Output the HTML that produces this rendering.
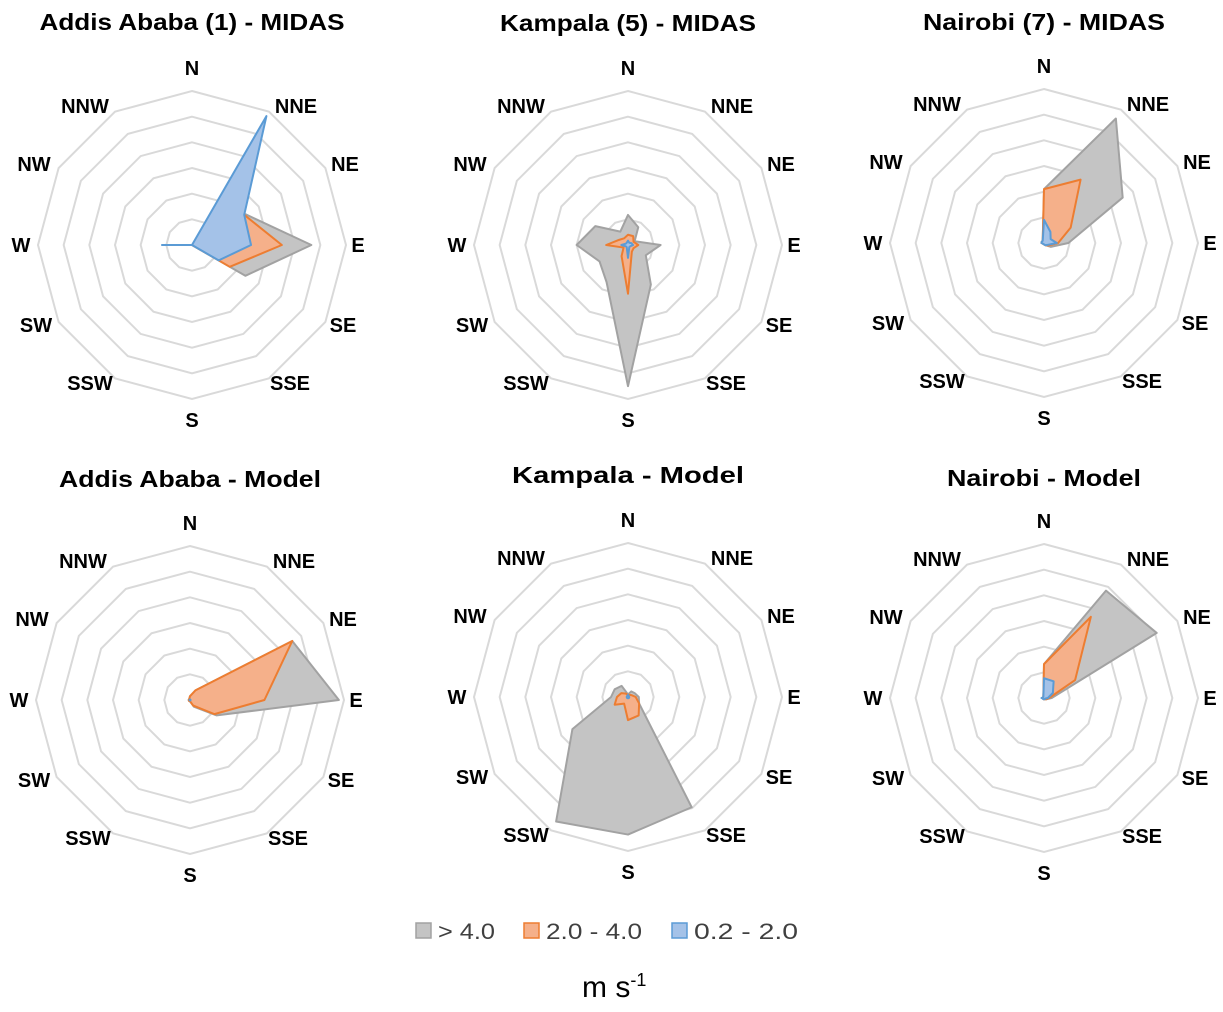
<!DOCTYPE html>
<html><head><meta charset="utf-8"><style>
html,body{margin:0;padding:0;background:#fff;}
svg{display:block;font-family:"Liberation Sans","DejaVu Sans",sans-serif;}
</style></head><body>
<svg id="chart" width="1223" height="1012" viewBox="0 0 1223 1012"></svg>
<script>
const directions = ["N","NNE","NE","E","SE","SSE","S","SSW","SW","W","NW","NNW"];
const ringCount = 6;
const titles = ["Addis Ababa (1) - MIDAS","Kampala (5) - MIDAS","Nairobi (7) - MIDAS","Addis Ababa - Model","Kampala - Model","Nairobi - Model"];
// values in ring units (0-6), order N..NNW
const grayA1 = [0,0,2.4,4.65,2.4,0,0,0,0,0,0,0];
const orangeA1 = [0,0,2.35,3.5,1.7,0,0,0,0,0,0,0];
const blueA1 = [0,5.8,2.35,2.3,1.2,0,0,0,0,1.17,0,0];
const grayK1 = [1.17,0.8,0.3,1.27,0.8,1.78,5.5,1.67,1.28,2.0,1.47,0.6];
const orangeK1 = [0.4,0.4,0.25,0.4,0.25,0.3,1.9,0.5,0.2,0.85,0.4,0.3];
const blueK1 = [0.17,0.1,0.15,0.2,0.1,0.1,0.5,0.1,0.1,0.26,0.1,0.1];
const grayN1 = [2.1,5.6,3.54,0.95,0.3,0.1,0.05,0.05,0.05,0.1,0.1,0.1];
const orangeN1 = [2.1,2.85,1.2,0.55,0.2,0.1,0.05,0.05,0.05,0.1,0.1,0.1];
const blueN1 = [0.9,0.5,0.3,0.5,0.15,0.1,0.05,0.05,0.05,0.1,0.1,0.1];
const grayA2 = [0.15,0.44,4.6,5.8,1.2,0.3,0.05,0.05,0.05,0.05,0.05,0.05];
const orangeA2 = [0.15,0.44,4.6,2.9,1.1,0.25,0.05,0.05,0.05,0.05,0.05,0.05];
const blueA2 = [0.02,0.02,0.02,0.02,0.02,0.02,0.02,0.02,0.02,0.02,0.02,0.02];
const grayK2 = [0.1,0.25,0.3,0.42,0.5,4.96,5.36,5.6,2.5,0.66,0.6,0.5];
const orangeK2 = [0.07,0.1,0.15,0.3,0.5,0.83,0.9,0.3,0.6,0.43,0.3,0.15];
const blueK2 = [0.08,0.05,0.05,0.05,0.05,0.05,0.05,0.05,0.05,0.05,0.05,0.05];
const grayN2 = [1.32,4.83,5.07,0.3,0.1,0.05,0.05,0.05,0.05,0.05,0.05,0.05];
const orangeN2 = [1.32,3.65,1.4,0.2,0.1,0.05,0.05,0.05,0.05,0.05,0.05,0.05];
const blueN2 = [0.77,0.75,0.4,0.15,0.05,0.05,0.05,0.05,0.05,0.1,0.05,0.05];
const legendLabels = ["> 4.0","2.0 - 4.0","0.2 - 2.0"];

const NS="http://www.w3.org/2000/svg";
const svg=document.getElementById('chart');
const centers=[[192,245],[628,245],[1044,243],[190,700],[628,697],[1044,698]];
const titleY=[30,31,30,487,483,486];
const titleLen=[305,256,242,262,232,194];
const R=154;
// label offsets (layout) from center
const labDX=[0,104,153,166,151,98,0,-102,-156,-171,-158,-107];
const labDY=[-177,-139,-81,0,80,138,175,138,80,0,-81,-139];
const seriesSets=[[grayA1,orangeA1,blueA1],[grayK1,orangeK1,blueK1],[grayN1,orangeN1,blueN1],[grayA2,orangeA2,blueA2],[grayK2,orangeK2,blueK2],[grayN2,orangeN2,blueN2]];
const fills=["#c4c4c4","#f5b08a","#a4c2e8"];
const strokes=["#a2a2a2","#ed7d31","#5b9bd5"];
const seriesNames=["gt4","2to4","0p2to2"];
function el(t,a){const e=document.createElementNS(NS,t);for(const k in a)e.setAttribute(k,a[k]);return e;}
function pt(cx,cy,v,i){const ang=i*Math.PI*2/directions.length;const r=v/ringCount*R;return [cx+r*Math.sin(ang),cy-r*Math.cos(ang)];}
titles.forEach((t,ci)=>{
  const [cx,cy]=centers[ci];
  const g=el('g',{});
  
  
  svg.appendChild(g);
  const tt=el('text',{x:cx-titleLen[ci]/2,y:titleY[ci],'font-size':'23','font-weight':'bold',fill:'#000',textLength:titleLen[ci],lengthAdjust:'spacingAndGlyphs'});
  tt.textContent=t;
  
  
  g.appendChild(tt);
  for(let k=1;k<=ringCount;k++){
    const p=directions.map((d,i)=>pt(cx,cy,k,i).join(',')).join(' ');
    const ring=el('polygon',{points:p,fill:'none',stroke:'#d9d9d9','stroke-width':'2'});
    
    
    g.appendChild(ring);
  }
  directions.forEach((d,i)=>{
    const lb=el('text',{x:cx+labDX[i],y:cy+labDY[i]+7,'text-anchor':'middle','font-size':'20','font-weight':'bold',fill:'#000'});
    lb.textContent=d;
    
    
    g.appendChild(lb);
  });
  seriesSets[ci].forEach((vals,si)=>{
    const p=vals.map((v,i)=>pt(cx,cy,v,i).join(',')).join(' ');
    const poly=el('polygon',{points:p,fill:fills[si],stroke:strokes[si],'stroke-width':'2','stroke-linejoin':'round'});
    
    
    g.appendChild(poly);
  });
});
const lx=[416,524,672];
const lw=[57,96,104];
legendLabels.forEach((l,i)=>{
  const r=el('rect',{x:lx[i],y:923,width:15,height:15,fill:fills[i],stroke:strokes[i],'stroke-width':'1.5'});
  
  
  svg.appendChild(r);
  const t=el('text',{x:lx[i]+22,y:939,'font-size':'22',fill:'#404040',textLength:lw[i],lengthAdjust:'spacingAndGlyphs'});
  t.textContent=l;
  
  
  svg.appendChild(t);
});
</script>
<div style="position:absolute;left:582px;top:970px;font-family:'Liberation Sans',sans-serif;font-size:30px;color:#000;">m s<sup style="font-size:18px">-1</sup></div>
</body></html>
